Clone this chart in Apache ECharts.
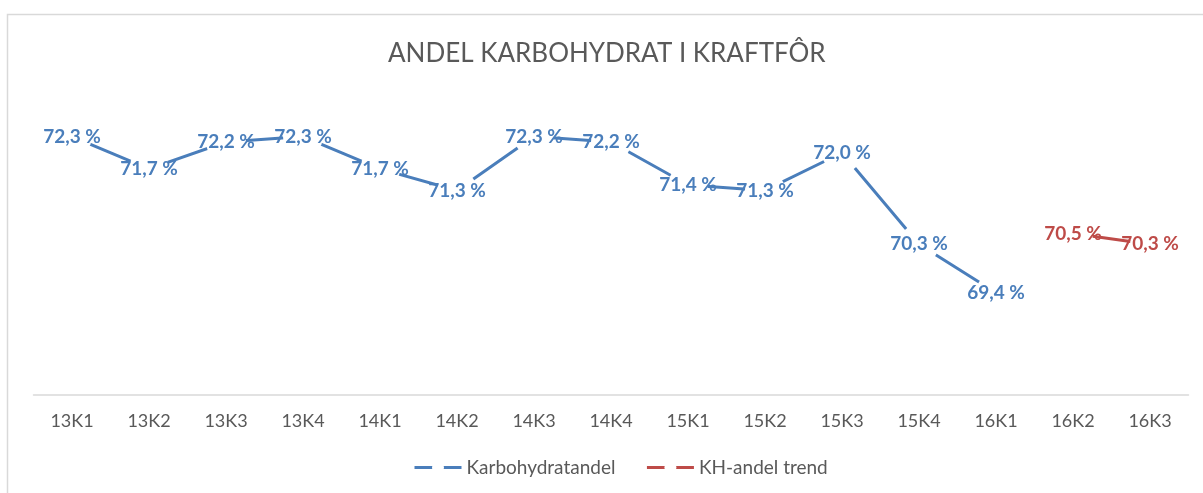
<!DOCTYPE html>
<html>
<head>
<meta charset="utf-8">
<script src="https://cdn.jsdelivr.net/npm/echarts@6/dist/echarts.min.js"></script>
<style>
  html, body { margin: 0; padding: 0; background: #fff; }
  #chart { width: 1203px; height: 493px; }
</style>
</head>
<body>
<div id="chart"></div>
<script>
// quarters on the x axis
var quarters = ['13K1', '13K2', '13K3', '13K4', '14K1', '14K2', '14K3', '14K4',
  '15K1', '15K2', '15K3', '15K4', '16K1', '16K2', '16K3'];
// carbohydrate share, measured
var khAndel = [72.3, 71.7, 72.2, 72.3, 71.7, 71.3, 72.3, 72.2, 71.4, 71.3, 72.0, 70.3, 69.4, null, null];
// trend for the last two quarters
var khTrend = [null, null, null, null, null, null, null, null, null, null, null, null, null, 70.5, 70.3];

var blue = '#4a7ebb';
var red = '#be4b48';
var font = 'Lato';

function pct(p) {
  return p.value.toFixed(1).replace('.', ',') + ' %';
}

var chart = echarts.init(document.getElementById('chart'));
chart.setOption({
  animation: false,
  textStyle: { fontFamily: font },
  graphic: [{
    type: 'rect',
    silent: true,
    shape: { x: 7.5, y: 14.5, width: 1300, height: 600 },
    style: { fill: 'none', stroke: '#d9d9d9', lineWidth: 1.5 }
  }],
  title: {
    text: 'ANDEL KARBOHYDRAT I KRAFTFÔR',
    left: 383,
    top: 36,
    textStyle: { color: '#595959', fontSize: 26, fontWeight: 'normal', fontFamily: font }
  },
  legend: {
    bottom: 11,
    left: 408,
    itemWidth: 47,
    itemHeight: 15,
    itemGap: 30,
    lineStyle: { width: 3 },
    textStyle: { color: '#595959', fontSize: 19, fontFamily: font },
    data: ['Karbohydratandel', 'KH-andel trend']
  },
  grid: { left: 33.5, right: 14.5, top: 72, bottom: 98 },
  xAxis: {
    type: 'category',
    data: quarters,
    boundaryGap: true,
    axisLine: { lineStyle: { color: '#d9d9d9', width: 1.5 } },
    axisTick: { show: false },
    axisLabel: { color: '#595959', fontSize: 18, margin: 17, fontFamily: font }
  },
  yAxis: {
    type: 'value',
    min: 67.5,
    max: 73.5,
    show: false,
    splitLine: { show: false }
  },
  series: [{
    name: 'Karbohydratandel',
    type: 'line',
    data: khAndel,
    symbol: 'circle',
    symbolSize: 40,
    itemStyle: { color: '#fff', borderWidth: 0 },
    lineStyle: { color: blue, width: 3 },
    label: {
      show: true,
      position: 'inside',
      formatter: pct,
      color: blue,
      fontWeight: 'bold',
      fontSize: 19,
      fontFamily: font
    },
    emphasis: { disabled: true }
  }, {
    name: 'KH-andel trend',
    type: 'line',
    data: khTrend,
    symbol: 'circle',
    symbolSize: 40,
    itemStyle: { color: '#fff', borderWidth: 0 },
    lineStyle: { color: red, width: 3 },
    label: {
      show: true,
      position: 'inside',
      formatter: pct,
      color: red,
      fontWeight: 'bold',
      fontSize: 19,
      fontFamily: font
    },
    emphasis: { disabled: true }
  }]
});
</script>
</body>
</html>
